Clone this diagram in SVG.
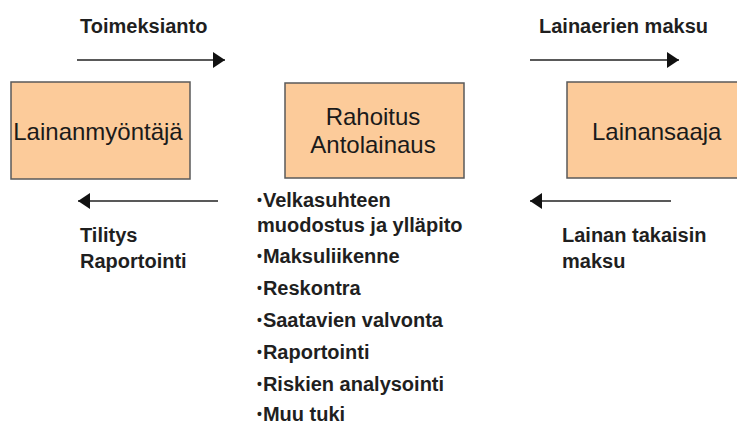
<svg xmlns="http://www.w3.org/2000/svg" width="737" height="425" viewBox="0 0 737 425">
<style>
.box{fill:#FCCB9A;stroke:#5a5a5a;stroke-width:1.5}
.bt{font-family:"Liberation Sans",Arial,sans-serif;font-size:24px;fill:#1a1a1a}
.lb{font-family:"Liberation Sans",Arial,sans-serif;font-size:20px;font-weight:bold;fill:#1f1f1f}
.bu{font-size:14px}
.ln{stroke:#222;stroke-width:1.5;fill:none}
</style>
<defs>
<marker id="ah" viewBox="0 0 12 16" refX="12" refY="8" markerWidth="12" markerHeight="16" markerUnits="userSpaceOnUse" orient="auto">
<path d="M0,0 L12,8 L0,16 Z" fill="#111"/>
</marker>
</defs>
<rect width="737" height="425" fill="#fff"/>
<g id="lainanmyontaja">
<rect class="box" x="11" y="82" width="179" height="97"/>
<text class="bt" x="98" y="140" text-anchor="middle">Lainanmyöntäjä</text>
</g>
<g id="rahoitus">
<rect class="box" x="285" y="83" width="179" height="95"/>
<text class="bt" x="373" y="125" text-anchor="middle">Rahoitus</text>
<text class="bt" x="373" y="153" text-anchor="middle">Antolainaus</text>
</g>
<g id="lainansaaja">
<rect class="box" x="567" y="82" width="180" height="96"/>
<text class="bt" x="592" y="140">Lainansaaja</text>
</g>
<g id="connectors">
<line class="ln" x1="77" y1="60" x2="225" y2="60" marker-end="url(#ah)"/>
<line class="ln" x1="218" y1="201" x2="78" y2="201" marker-end="url(#ah)"/>
<line class="ln" x1="530" y1="60" x2="679" y2="60" marker-end="url(#ah)"/>
<line class="ln" x1="671" y1="201" x2="530" y2="201" marker-end="url(#ah)"/>
</g>
<g id="labels">
<text class="lb" x="80" y="33">Toimeksianto</text>
<text class="lb" x="539" y="33">Lainaerien maksu</text>
<text class="lb" x="80" y="242">Tilitys</text>
<text class="lb" x="80" y="268">Raportointi</text>
<text class="lb" x="562" y="242">Lainan takaisin</text>
<text class="lb" x="562" y="268">maksu</text>
</g>
<g id="list">
<text class="lb" x="257" y="207"><tspan class="bu" dy="-2">•</tspan><tspan dx="1" dy="2">Velkasuhteen</tspan></text>
<text class="lb" x="257" y="232">muodostus ja ylläpito</text>
<text class="lb" x="257" y="263"><tspan class="bu" dy="-2">•</tspan><tspan dx="1" dy="2">Maksuliikenne</tspan></text>
<text class="lb" x="257" y="295"><tspan class="bu" dy="-2">•</tspan><tspan dx="1" dy="2">Reskontra</tspan></text>
<text class="lb" x="257" y="327"><tspan class="bu" dy="-2">•</tspan><tspan dx="1" dy="2">Saatavien valvonta</tspan></text>
<text class="lb" x="257" y="359"><tspan class="bu" dy="-2">•</tspan><tspan dx="1" dy="2">Raportointi</tspan></text>
<text class="lb" x="257" y="391"><tspan class="bu" dy="-2">•</tspan><tspan dx="1" dy="2">Riskien analysointi</tspan></text>
<text class="lb" x="257" y="421"><tspan class="bu" dy="-2">•</tspan><tspan dx="1" dy="2">Muu tuki</tspan></text>
</g>
</svg>
